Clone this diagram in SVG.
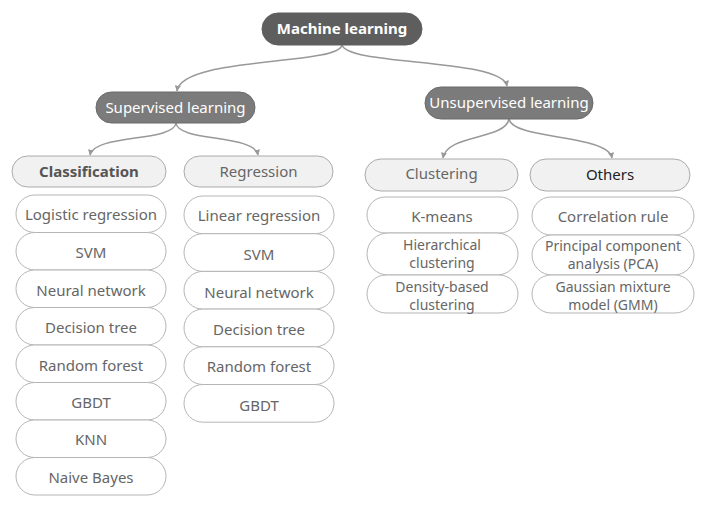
<svg xmlns="http://www.w3.org/2000/svg" width="713" height="526" viewBox="0 0 713 526">
<style>
text{font-family:"Noto Sans","Open Sans","DejaVu Sans",sans-serif;font-size:15px;text-anchor:middle;dominant-baseline:central;fill:#666}
.two{font-size:14px}
.dark rect{fill:#5e5e5e;stroke:#5e5e5e}
.mid rect{fill:#7b7b7b;stroke:#6a6a6a}
.dark text,.mid text{fill:#fff}
.head rect{fill:#f1f1f1;stroke:#aaa;stroke-width:1}
.item rect{fill:#fff;stroke:#b5b5b5;stroke-width:1}
.conn path{fill:none;stroke:#999;stroke-width:1.5}
</style>
<defs>
<marker id="ah" viewBox="0 0 10 10" refX="9" refY="5" markerWidth="6" markerHeight="6" orient="auto" markerUnits="userSpaceOnUse">
<path d="M0,0 L10,5 L0,10 z" fill="#999"/>
</marker>
</defs>
<g class="conn">
<path d="M342,45 C338,66 182,56 177,91" marker-end="url(#ah)"/>
<path d="M342,45 C348,66 502,58 507,86" marker-end="url(#ah)"/>
<path d="M176,123 C174,142 94,134 90,155" marker-end="url(#ah)"/>
<path d="M176,123 C178,142 254,134 258,155" marker-end="url(#ah)"/>
<path d="M509,119 C505,140 447,134 443,158" marker-end="url(#ah)"/>
<path d="M509,119 C513,140 608,134 612,158" marker-end="url(#ah)"/>
</g>
<g id="machine-learning" class="dark"><rect x="262" y="13" width="160" height="32" rx="16"/><text x="342" y="28" font-weight="bold">Machine learning</text></g>
<g id="supervised" class="mid"><rect x="96" y="92" width="159" height="31" rx="15.5"/><text x="175.5" y="107">Supervised learning</text></g>
<g id="unsupervised" class="mid"><rect x="425" y="87" width="168" height="32" rx="16"/><text x="509" y="102">Unsupervised learning</text></g>

<g id="classification" class="head"><rect x="12" y="156" width="154" height="31" rx="15.5"/><text x="89" y="171" font-weight="bold" style="fill:#555">Classification</text></g>
<g id="regression" class="head"><rect x="184" y="156" width="149" height="31" rx="15.5"/><text x="258.5" y="171">Regression</text></g>
<g id="clustering" class="head"><rect x="365" y="159" width="153" height="32" rx="16"/><text x="441.5" y="173">Clustering</text></g>
<g id="others" class="head"><rect x="530" y="159" width="160" height="32" rx="16"/><text x="610" y="174" style="fill:#222">Others</text></g>

<g id="c1" class="item"><rect x="16" y="195" width="150" height="37.5" rx="18.75"/><text x="91" y="214">Logistic regression</text></g>
<g id="c2" class="item"><rect x="16" y="232.5" width="150" height="37.5" rx="18.75"/><text x="91" y="252">SVM</text></g>
<g id="c3" class="item"><rect x="16" y="270" width="150" height="37.5" rx="18.75"/><text x="91" y="290">Neural network</text></g>
<g id="c4" class="item"><rect x="16" y="307.5" width="150" height="37.5" rx="18.75"/><text x="91" y="327">Decision tree</text></g>
<g id="c5" class="item"><rect x="16" y="345" width="150" height="37.5" rx="18.75"/><text x="91" y="365">Random forest</text></g>
<g id="c6" class="item"><rect x="16" y="382.5" width="150" height="37.5" rx="18.75"/><text x="91" y="402">GBDT</text></g>
<g id="c7" class="item"><rect x="16" y="420" width="150" height="37.5" rx="18.75"/><text x="91" y="439">KNN</text></g>
<g id="c8" class="item"><rect x="16" y="457.5" width="150" height="37.5" rx="18.75"/><text x="91" y="477">Naive Bayes</text></g>

<g id="r1" class="item"><rect x="184" y="196" width="150" height="37.7" rx="18.85"/><text x="259" y="215">Linear regression</text></g>
<g id="r2" class="item"><rect x="184" y="233.7" width="150" height="37.7" rx="18.85"/><text x="259" y="254">SVM</text></g>
<g id="r3" class="item"><rect x="184" y="271.4" width="150" height="37.7" rx="18.85"/><text x="259" y="292">Neural network</text></g>
<g id="r4" class="item"><rect x="184" y="309.1" width="150" height="37.7" rx="18.85"/><text x="259" y="329">Decision tree</text></g>
<g id="r5" class="item"><rect x="184" y="346.8" width="150" height="37.7" rx="18.85"/><text x="259" y="366">Random forest</text></g>
<g id="r6" class="item"><rect x="184" y="384.5" width="150" height="37.7" rx="18.85"/><text x="259" y="405">GBDT</text></g>

<g id="u1" class="item"><rect x="367" y="197" width="151" height="36" rx="18"/><text x="442" y="216">K-means</text></g>
<g id="u2" class="item"><rect x="367" y="233" width="151" height="42" rx="21"/><text class="two" x="442" y="244">Hierarchical</text><text class="two" x="442" y="262">clustering</text></g>
<g id="u3" class="item"><rect x="367" y="275" width="151" height="38" rx="19"/><text class="two" x="442" y="286">Density-based</text><text class="two" x="442" y="304">clustering</text></g>

<g id="o1" class="item"><rect x="532" y="197" width="162" height="38" rx="19"/><text x="613" y="216">Correlation rule</text></g>
<g id="o2" class="item"><rect x="532" y="235" width="162" height="40" rx="20"/><text class="two" x="613" y="245">Principal component</text><text class="two" x="613" y="263">analysis (PCA)</text></g>
<g id="o3" class="item"><rect x="532" y="275" width="162" height="38" rx="19"/><text class="two" x="613" y="286">Gaussian mixture</text><text class="two" x="613" y="304">model (GMM)</text></g>
</svg>
